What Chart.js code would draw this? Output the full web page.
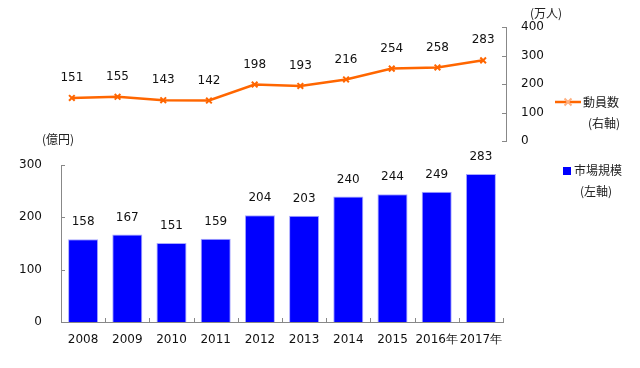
<!DOCTYPE html>
<html>
<head>
<meta charset="utf-8">
<script src="https://cdn.jsdelivr.net/npm/chart.js@4/dist/chart.umd.min.js"></script>
<style>
  body { margin: 0; background: #fff; }
  #wrap { position: relative; width: 640px; height: 368px; }
  canvas { position: absolute; left: 0; top: 0; }
  .t { position: absolute; font-family: "Noto Sans CJK JP", sans-serif; font-size: 12px; line-height: 14px; color: #222; white-space: nowrap; }
  .sq { position: absolute; width: 8px; height: 8px; background: #0000ff; }
</style>
</head>
<body>
<div id="wrap">
  <canvas id="barChart" width="640" height="368"></canvas>
  <canvas id="lineChart" width="640" height="368"></canvas>
  <div class="t" style="left:530px;top:6px;">(万人)</div>
  <div class="t" style="left:42px;top:132px;">(億円)</div>
  <svg style="position:absolute;left:555px;top:97px;" width="26" height="10">
    <line x1="0" y1="5" x2="26" y2="5" stroke="#ff6600" stroke-width="2.5"/>
    <path d="M9.5 1.5 L16.5 8.5 M16.5 1.5 L9.5 8.5" stroke="#ffb080" stroke-width="2"/>
  </svg>
  <div class="t" style="left:583px;top:95px;">動員数</div>
  <div class="t" style="left:588px;top:116px;">(右軸)</div>
  <div class="sq" style="left:563px;top:167px;"></div>
  <div class="t" style="left:574px;top:163px;">市場規模</div>
  <div class="t" style="left:580px;top:184px;">(左軸)</div>
</div>
<script>
// データ
const years = ['2008', '2009', '2010', '2011', '2012', '2013', '2014', '2015', '2016年', '2017年'];
const attendance = [151, 155, 143, 142, 198, 193, 216, 254, 258, 283];   // 動員数(万人)
const marketSize = [158, 167, 151, 159, 204, 203, 240, 244, 249, 283];   // 市場規模(億円)
const rightAxisTicks = [0, 100, 200, 300, 400];
const leftAxisTicks = [0, 100, 200, 300];

const tickFont = { family: '"DejaVu Sans", sans-serif', size: 12 };
const textColor = '#111';

// 値ラベル
const valueLabels = {
    id: 'valueLabels',
    afterDatasetsDraw(chart, args, opts) {
        const ctx = chart.ctx;
        const meta = chart.getDatasetMeta(0);
        const data = chart.data.datasets[0].data;
        ctx.save();
        ctx.font = '12px "DejaVu Sans", sans-serif';
        ctx.fillStyle = textColor;
        ctx.textAlign = 'center';
        ctx.textBaseline = 'middle';
        meta.data.forEach(function (el, i) {
            ctx.fillText(String(data[i]), el.x, el.y - opts.gap);
        });
        ctx.restore();
    }
};

// 内向きの目盛り
const innerTicks = {
    id: 'innerTicks',
    afterDraw(chart, args, opts) {
        const ctx = chart.ctx;
        const area = chart.chartArea;
        ctx.save();
        ctx.strokeStyle = '#888';
        ctx.lineWidth = 1;
        ctx.beginPath();
        const y = chart.scales.y;
        y.ticks.forEach(function (t) {
            const py = Math.round(y.getPixelForValue(t.value)) + 0.5;
            if (opts.side === 'right') {
                ctx.moveTo(y.left - 4, py); ctx.lineTo(y.left, py);
            } else {
                ctx.moveTo(y.right, py); ctx.lineTo(y.right + 4, py);
            }
        });
        if (opts.xTicks) {
            const n = chart.data.labels.length;
            for (let i = 0; i <= n; i++) {
                const px = Math.round(area.left + i * (area.right - area.left) / n) + 0.5;
                ctx.moveTo(px, area.bottom - 4); ctx.lineTo(px, area.bottom);
            }
        }
        ctx.stroke();
        ctx.restore();
    }
};

// 市場規模(棒)
new Chart(document.getElementById('barChart').getContext('2d'), {
    type: 'bar',
    data: {
        labels: years,
        datasets: [{
            label: '市場規模',
            data: marketSize,
            backgroundColor: '#0000ff',
            borderColor: '#a8a8ff',
            borderWidth: 1,
            categoryPercentage: 0.68,
            barPercentage: 1
        }]
    },
    options: {
        responsive: false,
        animation: false,
        layout: { padding: { left: 0, top: 165, right: 137, bottom: 0 } },
        plugins: {
            legend: { display: false },
            tooltip: { enabled: false },
            valueLabels: { gap: 17 },
            innerTicks: { side: 'left', xTicks: true }
        },
        scales: {
            x: {
                grid: { display: false, drawTicks: false },
                border: { display: true, color: '#888' },
                ticks: { font: tickFont, color: textColor, padding: 11, autoSkip: false, maxRotation: 0 },
                afterFit: function (s) { s.height = 46; }
            },
            y: {
                min: 0, max: 300,
                afterBuildTicks: function (s) { s.ticks = leftAxisTicks.map(v => ({ value: v })); },
                grid: { display: false, drawTicks: false },
                border: { display: true, color: '#888' },
                ticks: { font: tickFont, color: textColor, padding: 19 },
                afterFit: function (s) { s.width = 61; }
            }
        }
    },
    plugins: [valueLabels, innerTicks]
});

// 動員数(折れ線)
new Chart(document.getElementById('lineChart').getContext('2d'), {
    type: 'line',
    data: {
        labels: years,
        datasets: [{
            label: '動員数',
            data: attendance,
            borderColor: '#ff6600',
            borderWidth: 2.5,
            pointStyle: 'crossRot',
            pointRadius: 4,
            pointBorderWidth: 2,
            pointBorderColor: '#ff6600',
            pointBackgroundColor: '#ff6600',
            tension: 0
        }]
    },
    options: {
        responsive: false,
        animation: false,
        layout: { padding: { left: 49, top: 27, right: 94, bottom: 227 } },
        plugins: {
            legend: { display: false },
            tooltip: { enabled: false },
            valueLabels: { gap: 20 },
            innerTicks: { side: 'right', xTicks: false }
        },
        scales: {
            x: { display: false, offset: true },
            y: {
                position: 'right',
                min: 0, max: 400,
                afterBuildTicks: function (s) { s.ticks = rightAxisTicks.map(v => ({ value: v })); },
                grid: { display: false, drawTicks: false },
                border: { display: true, color: '#888' },
                ticks: { font: tickFont, color: textColor, padding: 15 },
                afterFit: function (s) { s.width = 40; }
            }
        }
    },
    plugins: [valueLabels, innerTicks]
});
</script>
</body>
</html>
